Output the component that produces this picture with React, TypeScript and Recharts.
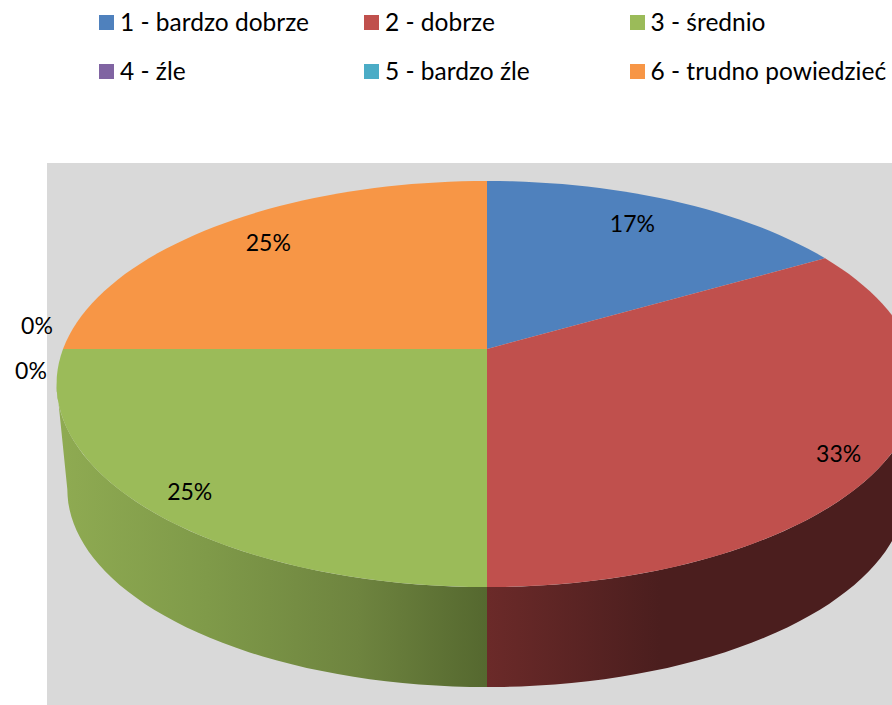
import React from 'react';
import { PieChart, Pie, Legend } from 'recharts';

const CATEGORIES = ['1 - bardzo dobrze', '2 - dobrze', '3 - średnio', '4 - źle', '5 - bardzo źle', '6 - trudno powiedzieć'];
const VALUES = [2, 4, 3, 0, 0, 3];
const COLORS = ['#4F81BD', '#C0504D', '#9BBB59', '#8064A2', '#4BACC6', '#F79646'];
const WALL_FILLS = ['#3B5F8A', 'url(#wallRed)', 'url(#wallGreen)', '#5E4A78', '#37809A', '#B56E33'];

const data = CATEGORIES.map((name, i) => ({ name, value: VALUES[i], fill: COLORS[i] }));

/* label placement in pie units + pixel nudge */
const LABEL_RADIUS = [0.81, 0.9, 0.894, 1, 1, 0.822];
const LABEL_NUDGE = [[-4, -6], [-10, 7], [8, 0], [-32, 21], [-26, -24], [1, -5]];

const FONT = "Lato, 'Open Sans', sans-serif";
const RAD = Math.PI / 180;

/* ——— perspective of the tilted disc ——— */
const TILT = 0.1724;
const SQUASH = 197 / 424;
const BOTTOM_SCALE = 0.975;
const DEPTH = 106;

function project(cx: number, cy: number, r: number, deg: number) {
  const u = Math.cos(deg * RAD);
  const v = Math.sin(deg * RAD);
  const w = 1 + TILT * v;
  return { x: cx + (r * u) / w, y: cy - (r * SQUASH * v) / w };
}

function rim(cx: number, cy: number, r: number, from: number, to: number) {
  const steps = Math.max(2, Math.ceil(Math.abs(from - to) / 2));
  const pts: string[] = [];
  for (let i = 0; i <= steps; i++) {
    const p = project(cx, cy, r, from + ((to - from) * i) / steps);
    pts.push(`${p.x.toFixed(1)} ${p.y.toFixed(1)}`);
  }
  return pts;
}

function TopSlice(props: any) {
  const { cx, cy, outerRadius, startAngle, endAngle, fill } = props;
  if (startAngle === endAngle) return null;
  const d = `M ${cx} ${cy} L ${rim(cx, cy, outerRadius, startAngle, endAngle).join(' L ')} Z`;
  return <path d={d} fill={fill} stroke="none" />;
}

function WallSlice(props: any) {
  const { cx, cy, outerRadius, startAngle, endAngle, index } = props;
  // only the part of the rim between the two silhouette tangents faces us
  const tangent = Math.asin(TILT) / RAD;
  const hi = Math.min(startAngle, -tangent);
  const lo = Math.max(endAngle, -180 + tangent);
  if (hi <= lo) return null;
  const top = rim(cx, cy, outerRadius, hi, lo);
  const bottom = rim(cx, cy + DEPTH, outerRadius * BOTTOM_SCALE, lo, hi);
  return <path d={`M ${top.join(' L ')} L ${bottom.join(' L ')} Z`} fill={WALL_FILLS[index]} stroke="none" />;
}

function sliceLabel(props: any) {
  const { cx, cy, outerRadius, midAngle, index } = props;
  const p = project(cx, cy, outerRadius * LABEL_RADIUS[index], midAngle);
  const [dx, dy] = LABEL_NUDGE[index];
  return (
    <text key={index} x={p.x + dx} y={p.y + dy} textAnchor="middle" dominantBaseline="central" fontSize={23} fontFamily={FONT} fill="#000000">
      {`${Math.round((VALUES[index] / 12) * 100)}%`}
    </text>
  );
}

function LegendGrid({ payload }: any) {
  const items = (payload || []).filter((p: any) => p.type !== 'none');
  const seen = new Set<string>();
  const unique = items.filter((p: any) => (seen.has(p.value) ? false : (seen.add(p.value), true)));
  return (
    // zero height so the legend takes nothing from the plot area
    <div style={{ height: 0, overflow: 'visible' }}>
      <div style={{ display: 'grid', gridTemplateColumns: '265px 265.5px 265px', rowGap: 20, paddingLeft: 99, paddingTop: 8 }}>
        {unique.map((p: any) => (
          <div key={p.value} style={{ display: 'flex', alignItems: 'center', height: 29, fontFamily: FONT, fontSize: 24.5, color: '#000', whiteSpace: 'nowrap' }}>
            <span style={{ width: 15, height: 15, background: p.color, marginRight: 6, flex: 'none' }} />
            <span style={{ position: 'relative', top: -1 }}>{p.value}</span>
          </div>
        ))}
      </div>
    </div>
  );
}

export default function App() {
  return (
    <div style={{ position: 'absolute', left: 0, top: 0, width: 892, height: 705, overflow: 'hidden', background: '#fff' }}>
      <div style={{ position: 'absolute', left: 47, top: 163, width: 845, height: 542, background: '#D9D9D9' }} />
      <PieChart width={892} height={705} margin={{ top: 0, right: 0, bottom: 0, left: 0 }} style={{ position: 'absolute', left: 0, top: 0 }}>
        <defs>
          <linearGradient id="wallGreen" gradientUnits="userSpaceOnUse" x1="57" y1="0" x2="487" y2="0">
            <stop offset="0%" stopColor="#8FAB52" />
            <stop offset="35%" stopColor="#7F9A49" />
            <stop offset="70%" stopColor="#6E843F" />
            <stop offset="100%" stopColor="#55682F" />
          </linearGradient>
          <linearGradient id="wallRed" gradientUnits="userSpaceOnUse" x1="487" y1="0" x2="660" y2="0">
            <stop offset="0%" stopColor="#6B2A29" />
            <stop offset="100%" stopColor="#4B1E1E" />
          </linearGradient>
        </defs>
        <Legend verticalAlign="top" align="left" wrapperStyle={{ left: 0, top: 0, width: 892 }} content={<LegendGrid />} />
        <Pie data={data} dataKey="value" nameKey="name" cx={487} cy={349} outerRadius={424} startAngle={90} endAngle={-270}
          legendType="none" shape={WallSlice} label={false} isAnimationActive={false} />
        <Pie data={data} dataKey="value" nameKey="name" cx={487} cy={349} outerRadius={424} startAngle={90} endAngle={-270}
          shape={TopSlice} label={sliceLabel} labelLine={false} isAnimationActive={false} />
      </PieChart>
    </div>
  );
}
